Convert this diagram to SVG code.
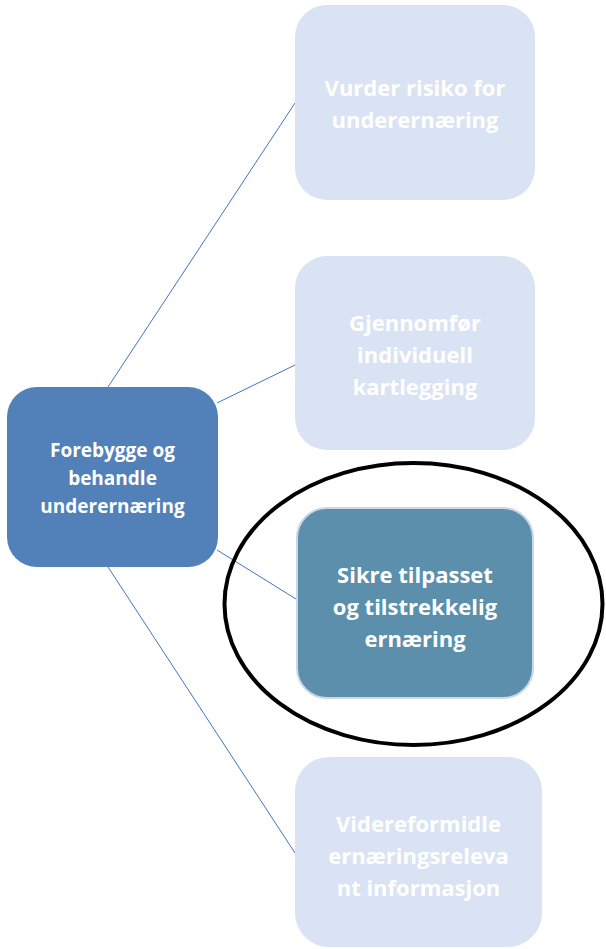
<svg xmlns="http://www.w3.org/2000/svg" width="606" height="949" viewBox="0 0 606 949">
  <style>
    .lbl { font-family: "Open Sans", Lato, "Liberation Sans", sans-serif; font-weight: bold; fill: #ffffff; text-anchor: middle; }
    .big { font-size: 22px; }
    .mid { font-size: 19px; }
    .faint { fill: #dae3f3; }
    .conn { stroke: #4472c4; stroke-width: 1; fill: none; }
  </style>
  <rect width="606" height="949" fill="#ffffff"/>

  <!-- connectors from the central node to each step -->
  <g id="connectors">
    <line class="conn" x1="108" y1="387" x2="295" y2="103"/>
    <line class="conn" x1="217" y1="403" x2="295" y2="365"/>
    <line class="conn" x1="217" y1="550" x2="296" y2="599"/>
    <line class="conn" x1="108" y1="567" x2="295" y2="853"/>
  </g>

  <g id="node-root">
    <rect x="7" y="387" width="211" height="180" rx="30" fill="#5181b8"/>
    <text class="lbl mid" x="112.5" y="457">Forebygge og</text>
    <text class="lbl mid" x="112.5" y="485">behandle</text>
    <text class="lbl mid" x="112.5" y="513">underernæring</text>
  </g>

  <g id="node-risiko">
    <rect class="faint" x="295" y="5" width="240" height="195" rx="32"/>
    <text class="lbl big" x="415" y="96">Vurder risiko for</text>
    <text class="lbl big" x="415" y="128">underernæring</text>
  </g>

  <g id="node-kartlegging">
    <rect class="faint" x="295" y="256" width="240" height="194" rx="32"/>
    <text class="lbl big" x="415" y="331">Gjennomfør</text>
    <text class="lbl big" x="415" y="363">individuell</text>
    <text class="lbl big" x="415" y="395">kartlegging</text>
  </g>

  <g id="node-ernaering">
    <rect x="297" y="508" width="236" height="190" rx="30" fill="#5b8fac" stroke="#c9d7ea" stroke-width="2"/>
    <text class="lbl big" x="415" y="583">Sikre tilpasset</text>
    <text class="lbl big" x="415" y="615">og tilstrekkelig</text>
    <text class="lbl big" x="415" y="647">ernæring</text>
  </g>

  <!-- highlight ring around the current step -->
  <g id="highlight">
    <ellipse cx="413.5" cy="604" rx="189" ry="141" fill="none" stroke="#000000" stroke-width="4"/>
  </g>

  <g id="node-informasjon">
    <rect class="faint" x="295" y="757" width="247" height="190" rx="34"/>
    <text class="lbl big" x="418.5" y="832">Videreformidle</text>
    <text class="lbl big" x="418.5" y="864">ernæringsreleva</text>
    <text class="lbl big" x="418.5" y="896">nt informasjon</text>
  </g>
</svg>
